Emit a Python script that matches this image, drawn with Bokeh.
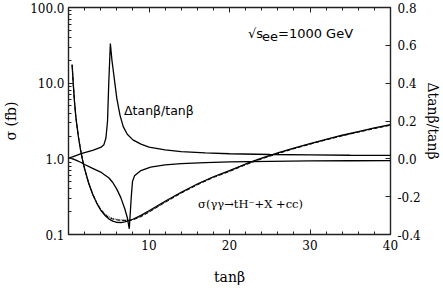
from bokeh.plotting import figure
from bokeh.models import (Range1d, LinearAxis, LinearScale, FixedTicker, Label)
from bokeh.embed import file_html
from bokeh.resources import INLINE

# ---- data ----
tanb_sig = [0.45, 0.6, 0.75, 0.9, 1.0, 1.25, 1.5, 1.75, 2.0, 2.5, 3.0, 3.5, 4.0, 4.5, 5.0,
            5.5, 6.0, 6.5, 7.0, 7.5, 8.0, 9.0, 10, 11, 12, 14, 16, 18, 20, 22, 24, 26, 28,
            30, 32, 34, 36, 38, 40]
sig_solid = [17.5, 9.5, 5.6, 3.7, 3.0, 1.9, 1.31, 0.96, 0.74, 0.48, 0.34, 0.26, 0.21, 0.18, 0.161,
             0.15, 0.145, 0.144, 0.147, 0.152, 0.159, 0.179, 0.206, 0.238, 0.275, 0.362, 0.465, 0.58, 0.70, 0.855, 1.02, 1.2, 1.39,
             1.59, 1.81, 2.05, 2.29, 2.56, 2.83]
sig_dash = [17.5, 9.5, 5.6, 3.7, 3.0, 1.9, 1.31, 0.96, 0.74, 0.48, 0.342, 0.263, 0.214, 0.185, 0.168,
            0.16, 0.156, 0.154, 0.153, 0.153, 0.156, 0.172, 0.197, 0.229, 0.265, 0.352, 0.453, 0.567, 0.68, 0.835, 1.0, 1.17, 1.36,
            1.56, 1.78, 2.01, 2.25, 2.51, 2.78]
sig_dot = [17.5, 9.5, 5.6, 3.7, 3.0, 1.9, 1.31, 0.96, 0.74, 0.48, 0.344, 0.266, 0.217, 0.188, 0.172,
           0.163, 0.158, 0.156, 0.156, 0.156, 0.159, 0.175, 0.2, 0.232, 0.268, 0.356, 0.46, 0.575, 0.69, 0.845, 1.01, 1.185, 1.375,
           1.575, 1.795, 2.03, 2.27, 2.535, 2.80]

tanb_up = [0.1, 0.5, 1, 1.5, 2, 3, 4, 4.4, 4.65, 4.85, 5.0, 5.2, 5.4, 5.7, 6.0, 6.4, 6.8, 7.3,
           8, 9, 10, 12, 14, 17, 20, 25, 30, 35, 40]
dtan_up = [0.005, 0.01, 0.018, 0.026, 0.033, 0.045, 0.06, 0.075, 0.11, 0.2, 0.4, 0.61, 0.52, 0.42,
           0.32, 0.23, 0.17, 0.13, 0.1, 0.078, 0.062, 0.047, 0.038, 0.031, 0.027, 0.023, 0.021, 0.019, 0.018]

tanb_dn = [0.1, 0.5, 1, 1.5, 2, 3, 4, 4.5, 5, 5.5, 6, 6.5, 7, 7.3, 7.55, 7.8, 7.95, 8.2, 9.0,
           10.2, 12, 14, 17, 20, 25, 30, 35, 40]
dtan_dn = [0.005, 0.0, -0.008, -0.018, -0.03, -0.05, -0.07, -0.085, -0.1, -0.125, -0.16, -0.205,
           -0.265, -0.31, -0.37, -0.2, -0.12, -0.09, -0.062, -0.044, -0.032, -0.025, -0.02, -0.016,
           -0.013, -0.011, -0.01, -0.009]

x_major = [10, 20, 30, 40]
y_major = [0.1, 1, 10, 100]
y_labels = ["0.1", "1.0", "10.0", "100.0"]
r_major = [-0.4, -0.2, 0.0, 0.2, 0.4, 0.6, 0.8]
r_labels = ["-0.4", "-0.2", "0.0", "0.2", "0.4", "0.6", "0.8"]

SERIF = "DejaVu Serif"
SANS = "DejaVu Sans"

p = figure(width=443, height=290, output_backend="svg", toolbar_location=None,
           x_range=Range1d(0, 40), y_range=Range1d(0.1, 100), y_axis_type="log",
           min_border_left=67, min_border_right=52, min_border_top=7, min_border_bottom=56,
           background_fill_color="white", border_fill_color="white")
p.extra_y_ranges = {"delta": Range1d(-0.4, 0.8)}
p.extra_y_scales = {"delta": LinearScale()}
p.xgrid.visible = False
p.ygrid.visible = False
p.outline_line_color = "#222222"
p.outline_line_width = 1.4

x_minor = [v for v in range(2, 40, 2)]
y_minor = [m * d for d in (0.1, 1, 10) for m in range(2, 10)]

def style(ax):
    ax.axis_line_color = None
    ax.major_tick_in = 5
    ax.major_tick_out = 0
    ax.minor_tick_in = 3
    ax.minor_tick_out = 0
    ax.major_tick_line_color = "#222222"
    ax.minor_tick_line_color = "#222222"
    ax.major_label_text_font = SERIF
    ax.major_label_text_font_size = "12px"
    ax.major_label_text_color = "black"
    ax.axis_label_text_font = SERIF
    ax.axis_label_text_font_style = "normal"
    ax.axis_label_text_color = "black"
    ax.axis_label_text_font_size = "14px"

xa = p.xaxis[0]
style(xa)
xa.ticker = FixedTicker(ticks=x_major, minor_ticks=x_minor)
xa.axis_label = "tanβ"
xa.major_label_standoff = 5
xa.axis_label_standoff = 16

ya = p.yaxis[0]
style(ya)
ya.ticker = FixedTicker(ticks=y_major, minor_ticks=y_minor)
ya.major_label_overrides = {v: s for v, s in zip(y_major, y_labels)}
ya.axis_label = "σ (fb)"
ya.major_label_standoff = 4
ya.axis_label_standoff = 8

top1 = LinearAxis(ticker=FixedTicker(ticks=[], minor_ticks=x_minor))
style(top1)
top1.major_label_standoff = 0
p.add_layout(top1, "above")
top2 = LinearAxis(ticker=FixedTicker(ticks=[], minor_ticks=x_major))
style(top2)
top2.minor_tick_in = 5
top2.major_label_standoff = 0
p.add_layout(top2, "above")

ra = LinearAxis(y_range_name="delta", ticker=FixedTicker(ticks=r_major, minor_ticks=[]))
style(ra)
ra.major_label_overrides = {v: s for v, s in zip(r_major, r_labels)}
ra.axis_label = "Δtanβ/tanβ"
ra.major_label_standoff = 7
ra.axis_label_standoff = 1
p.add_layout(ra, "right")

p.line(tanb_sig, sig_dot, line_color="#555555", line_width=1.2, line_dash="1 1")
p.line(tanb_sig, sig_dash, line_color="black", line_width=1.0, line_dash="4 2")
p.line(tanb_sig, sig_solid, line_color="black", line_width=1.3)
p.line(tanb_up, dtan_up, line_color="black", line_width=1.3, y_range_name="delta")
p.line(tanb_dn, dtan_dn, line_color="black", line_width=1.3, y_range_name="delta")

p.add_layout(Label(x=22.3, y=45, text="√s", text_font=SANS, text_font_size="13px",
                   text_baseline="middle", text_color="black"))
p.add_layout(Label(x=22.3, y=45, x_offset=14, y_offset=-3, text="ee", text_font=SANS,
                   text_font_size="13px", text_baseline="middle", text_color="black"))
p.add_layout(Label(x=22.3, y=45, x_offset=30, text="=1000 GeV", text_font=SANS,
                   text_font_size="13px", text_baseline="middle", text_color="black"))
p.add_layout(Label(x=6.9, y=4.3, text="Δtanβ/tanβ", text_font=SANS, text_font_size="12.5px",
                   text_baseline="middle", text_color="black"))
p.add_layout(Label(x=16.1, y=0.255, text="σ(γγ→tH⁻+X +cc)", text_font=SERIF,
                   text_font_size="11.5px", text_baseline="middle", text_color="black"))

open("out.html", "w").write(file_html(p, INLINE))
